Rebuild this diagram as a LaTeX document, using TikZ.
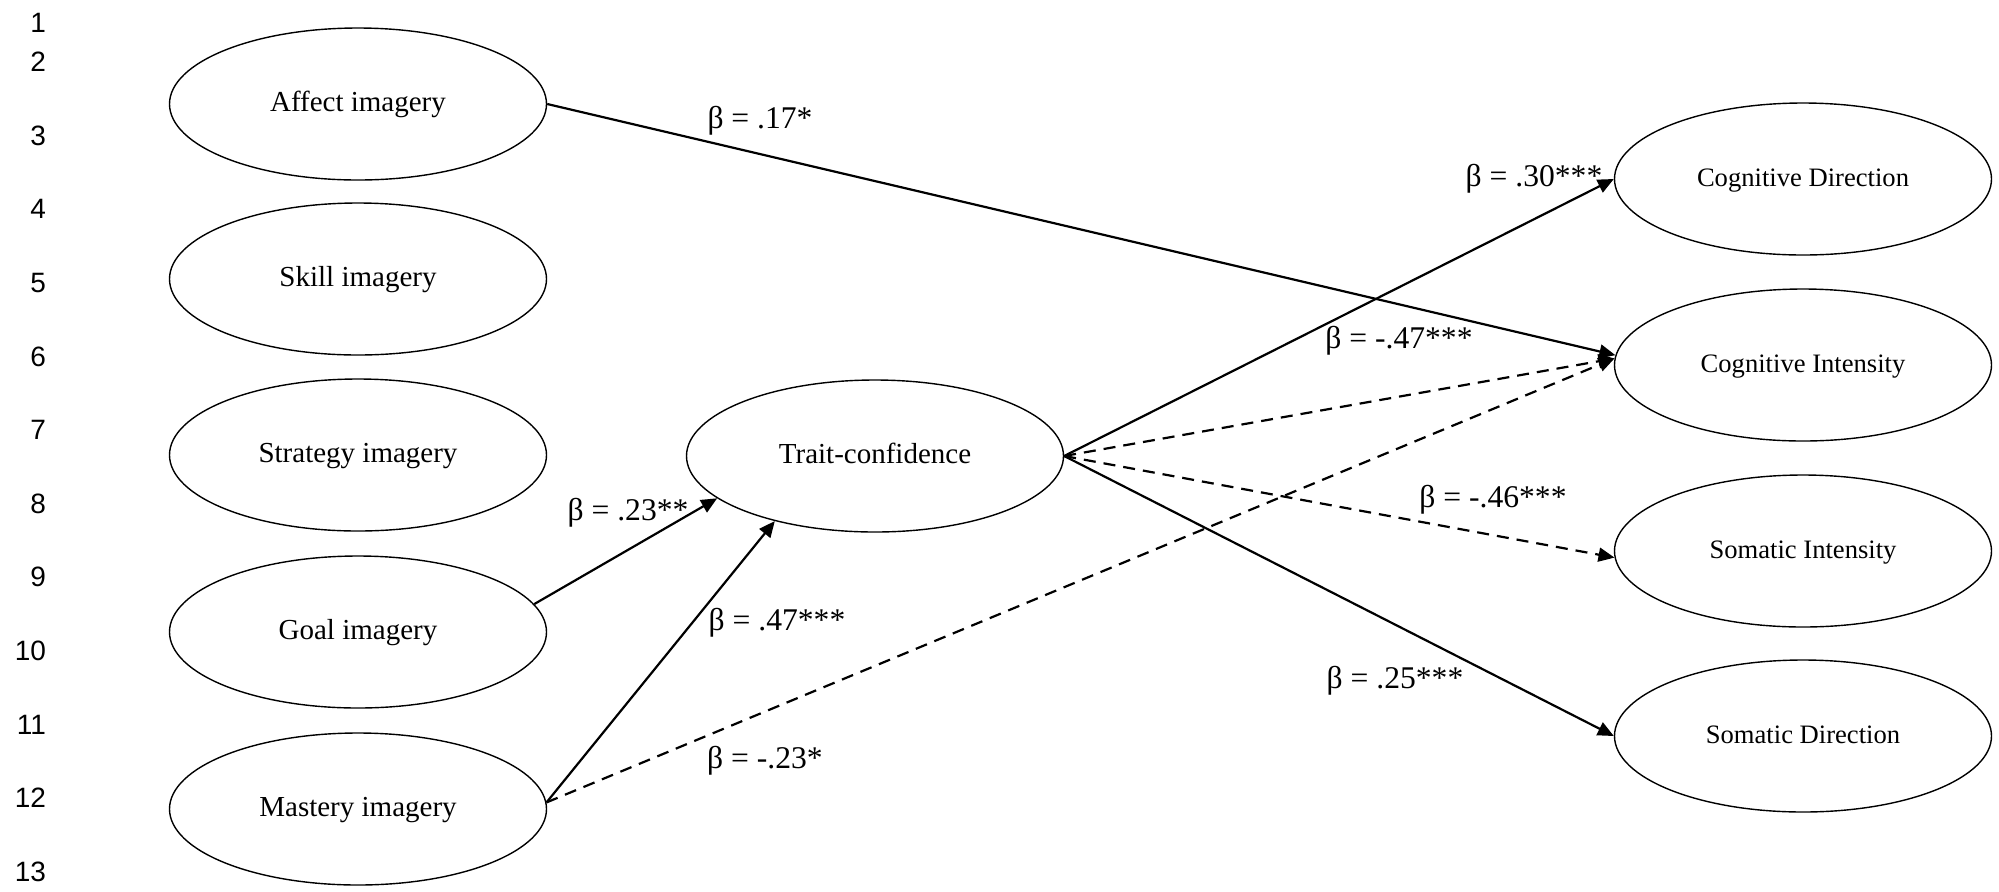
\documentclass[tikz,border=0pt]{standalone}
\usepackage{fontspec}
\setmainfont{Liberation Serif}
\newfontfamily\numfont{Liberation Sans}
\usetikzlibrary{arrows.meta,shapes.geometric}

\begin{document}
\begin{tikzpicture}[x=0.5pt,y=-0.5pt,->,>={Triangle[length=8pt,width=7pt]},
  line width=1.1pt,
  factor/.style={ellipse,draw,line width=0.7pt,minimum width=188.5pt,
    minimum height=76pt,inner sep=0pt,text height=0.78em,text depth=0.05em,
    font=\fontsize{14.5}{16}\selectfont},
  outcome/.style={factor,font=\fontsize{13.3}{15}\selectfont},
  beta/.style={anchor=base,font=\fontsize{15.8}{18}\selectfont},
  neg/.style={dash pattern=on 6pt off 4pt},
  lineno/.style={anchor=east,inner sep=0pt,font=\numfont\fontsize{14}{16}\selectfont}]

  \useasboundingbox (0,0) rectangle (1999,891);

  % line numbers
  \node[lineno] (n1) at (47,23) {1};
  \foreach \i in {2,...,13}
    \node[lineno] (n\i) at (47,{62+(\i-2)*73.6}) {\i};

  % imagery and trait-confidence
  \node[factor] (affect) at (358,104) {Affect imagery};
  \node[factor] (skill) at (358,279) {Skill imagery};
  \node[factor] (strategy) at (358,455) {Strategy imagery};
  \node[factor] (goal) at (358,632) {Goal imagery};
  \node[factor] (mastery) at (358,809) {Mastery imagery};
  \node[factor] (trait) at (875,456) {Trait-confidence};

  % anxiety
  \node[outcome] (cogdir) at (1803,179) {Cognitive Direction};
  \node[outcome] (cogint) at (1803,365) {Cognitive Intensity};
  \node[outcome] (somint) at (1803,551) {Somatic Intensity};
  \node[outcome] (somdir) at (1803,736) {Somatic Direction};

  % coefficients
  \node[beta] (b1) at (760,128) {β = .17*};
  \node[beta] (b2) at (1534,186) {β = .30***};
  \node[beta] (b3) at (1399,348) {β = -.47***};
  \node[beta] (b4) at (1493,507) {β = -.46***};
  \node[beta] (b5) at (1395,688) {β = .25***};
  \node[beta] (b6) at (628,520) {β = .23**};
  \node[beta] (b7) at (777,630) {β = .47***};
  \node[beta] (b8) at (765,768) {β = -.23*};

  \path
    (affect.east) edge (cogint.177)
    (goal.9) edge (trait.195)
    (mastery.2) edge (trait.213)
          edge[neg] (cogint.178)
    (trait.east) edge (cogdir.west)
          edge[neg] (cogint.178)
          edge[neg] (somint.182)
          edge (somdir.west);
\end{tikzpicture}
\end{document}
